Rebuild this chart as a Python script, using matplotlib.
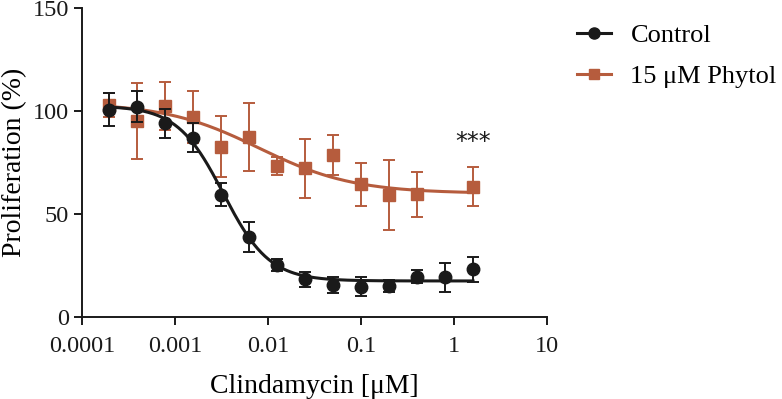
import numpy as np
import matplotlib.pyplot as plt

plt.rcParams['font.family'] = ['Liberation Serif', 'DejaVu Serif']

# 2-fold dilution series of clindamycin (uM)
conc = [1.6, 0.8, 0.4, 0.2, 0.1, 0.05, 0.025, 0.0125, 0.00625,
        0.003125, 0.0015625, 0.00078125, 0.000390625, 0.0001953125]
conc = np.array(conc)[::-1]

ctrl_mean = [100.5, 102, 94, 87, 59.4, 39, 25.2, 18.3, 15.5, 14.7, 15, 19.6, 19.3, 23.1]
ctrl_err = [8, 7.5, 7, 7, 5.5, 7.3, 3, 3.5, 4, 4.7, 3, 3, 7, 6]

# Phytol series has no 0.8 uM point
phy_conc = np.delete(conc, 12)
phy_mean = [103, 95.3, 102.4, 97, 82.7, 87.5, 73.3, 72.2, 78.6, 64.4, 59.2, 59.5, 63.3]
phy_err = [5.7, 18.5, 11.5, 12.7, 14.7, 16.5, 4.3, 14.4, 9.7, 10.5, 16.8, 11, 9.5]

# fitted 4-parameter logistic curves (top, bottom, IC50, hill)
ctrl_fit = (102.5, 17.5, 0.0033, 1.75)
phy_fit = (104.0, 60.0, 0.008, 0.85)

black = '#1a1a1a'
orange = '#b65c3d'


def four_pl(x, top, bottom, ic50, hill):
    return bottom + (top - bottom) / (1 + (x / ic50) ** hill)


fig = plt.figure(figsize=(7.82, 3.99), dpi=100)
ax = fig.add_axes([0.105, 0.2055, 0.5945, 0.7745])

xs = np.logspace(np.log10(conc[0]), np.log10(conc[-1]), 300)
ax.plot(xs, four_pl(xs, *ctrl_fit), color=black, lw=2.2, zorder=3)
ax.plot(xs, four_pl(xs, *phy_fit), color=orange, lw=2.2, zorder=2)

ax.errorbar(phy_conc, phy_mean, yerr=phy_err, fmt='s', color=orange, ms=8.5,
            capsize=4.5, elinewidth=1.4, capthick=1.4, zorder=2)
ax.errorbar(conc, ctrl_mean, yerr=ctrl_err, fmt='o', color=black, ms=9,
            capsize=4.5, elinewidth=1.4, capthick=1.4, zorder=3)

ax.text(1.6, 85, '***', ha='center', va='center', fontsize=17,
        family='DejaVu Sans', color=black)

ax.set_xscale('log')
ax.set_xlim(1e-4, 10)
ax.set_ylim(0, 150)
ax.set_xticks([1e-4, 1e-3, 1e-2, 1e-1, 1, 10])
ax.set_xticklabels(['0.0001', '0.001', '0.01', '0.1', '1', '10'])
ax.minorticks_off()
ax.set_yticks([0, 50, 100, 150])
ax.tick_params(labelsize=17.5, width=1.4, length=6, color=black, labelcolor=black)
ax.tick_params(axis='x', pad=8)
for s in ['top', 'right']:
    ax.spines[s].set_visible(False)
for s in ['left', 'bottom']:
    ax.spines[s].set_linewidth(1.4)
    ax.spines[s].set_color(black)

ax.set_xlabel('Clindamycin [μM]', fontsize=20, labelpad=12)
ax.set_ylabel('Proliferation (%)', fontsize=20, labelpad=4)

h1, = ax.plot([], [], '-o', color=black, lw=2.2, ms=8)
h2, = ax.plot([], [], '-s', color=orange, lw=2.2, ms=7.5)
fig.legend([h1, h2], ['Control', '15 μM Phytol'], loc='upper left',
           bbox_to_anchor=(0.738, 0.94), frameon=False, fontsize=19,
           borderpad=0, borderaxespad=0, handlelength=1.3,
           handletextpad=0.72, labelspacing=0.65)

fig.savefig('out.png', dpi=100)
